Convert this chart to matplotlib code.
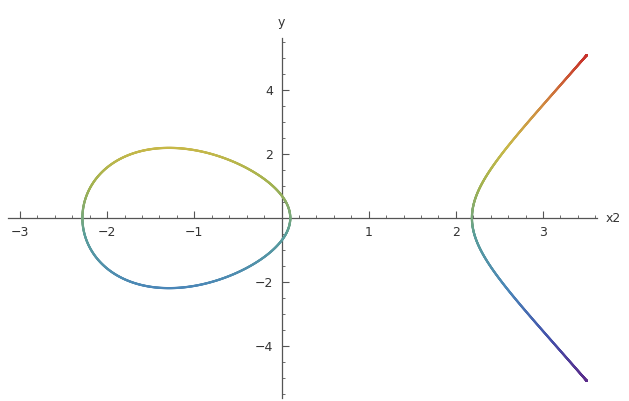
import numpy as np
import matplotlib
matplotlib.use("Agg")
import matplotlib.pyplot as plt
from matplotlib.collections import LineCollection
from matplotlib.colors import LinearSegmentedColormap

# curve y^2 = x^3 + a*x + b (roots ~ -2.29, 0.10, 2.19)
curve_a = -5.0
curve_b = 0.5
x_end = 3.5

x_ticks = [-3, -2, -1, 1, 2, 3]
y_ticks = [-4, -2, 2, 4]

# colour stops (position along y range, colour)
rainbow = [(0.0, "#5a2a8a"), (0.13, "#4350aa"), (0.28, "#4a86b8"),
           (0.45, "#5a9e9a"), (0.5, "#78a87c"), (0.6, "#a2b250"),
           (0.72, "#c8b848"), (0.85, "#d08a40"), (1.0, "#c8302a")]
cmap = LinearSegmentedColormap.from_list("rainbow_like", rainbow)


def branch(x0, x1, n=600):
    # cosine spacing so the vertical tangents at the roots stay smooth
    t = np.linspace(0, np.pi, n)
    x = x0 + (x1 - x0) * (1 - np.cos(t)) / 2
    y = np.sqrt(np.clip(x**3 + curve_a * x + curve_b, 0, None))
    return x, y


roots = np.sort(np.roots([1, 0, curve_a, curve_b]).real)

fig = plt.figure(figsize=(6.29, 4.01), dpi=100)
ax = fig.add_axes([8 / 629, 3 / 401, 589 / 629, 360 / 401])
ax.set_xlim(-3.138, 3.619)
ax.set_ylim(-5.625, 5.625)

ymax = np.sqrt(x_end**3 + curve_a * x_end + curve_b)
norm = plt.Normalize(-ymax, ymax)

# oval
xo, yo = branch(roots[0], roots[1])
xs = np.concatenate([xo, xo[::-1]])
ys = np.concatenate([yo, -yo[::-1]])
# right branch
xr, yr = branch(roots[2], x_end)
xr = np.concatenate([xr[::-1], xr])
yr = np.concatenate([-yr[::-1], yr])

for px, py in [(xs, ys), (xr, yr)]:
    pts = np.column_stack([px, py]).reshape(-1, 1, 2)
    segs = np.concatenate([pts[:-1], pts[1:]], axis=1)
    lc = LineCollection(segs, cmap=cmap, norm=norm, linewidth=1.6,
                        capstyle="round", zorder=3)
    lc.set_array((py[:-1] + py[1:]) / 2)
    ax.add_collection(lc)

# Mathematica-style axes through the origin
for side in ["top", "right"]:
    ax.spines[side].set_visible(False)
ax.spines["left"].set_position(("data", 0))
ax.spines["bottom"].set_position(("data", 0))
for side in ["left", "bottom"]:
    ax.spines[side].set_color("#555555")
    ax.spines[side].set_linewidth(0.9)

ax.set_xticks(x_ticks)
ax.set_xticklabels([f"{v}".replace("-", "\u2212") for v in x_ticks])
ax.set_yticks(y_ticks)
ax.set_yticklabels([f"{v}".replace("-", "\u2212") for v in y_ticks])
ax.set_xticks(np.arange(-3.0, 3.61, 0.2), minor=True)
ax.set_yticks(np.arange(-5.5, 5.6, 0.5), minor=True)
ax.tick_params(which="major", direction="in", length=5, width=0.8,
               color="#555555", labelsize=9, labelcolor="#333333", pad=6)
ax.tick_params(which="minor", direction="in", length=2.5, width=0.6,
               color="#555555")

ax.text(3.72, 0, "x2", ha="left", va="center", fontsize=9, color="#333333")
ax.text(0, 5.9, "y", ha="center", va="bottom", fontsize=9, color="#333333")

fig.savefig("out.png", dpi=100, facecolor="white")
